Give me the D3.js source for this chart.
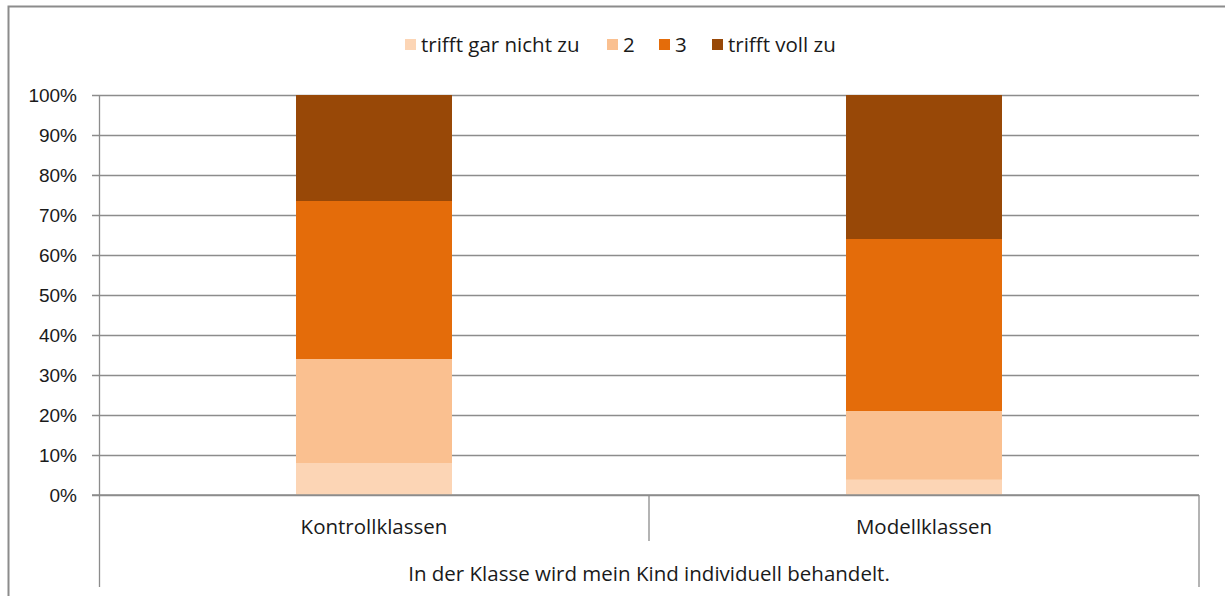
<!DOCTYPE html>
<html>
<head>
<meta charset="utf-8">
<script src="https://cdn.jsdelivr.net/npm/d3@7"></script>
<style>
  body { margin: 0; background: #fff; }
  svg { display: block; font-family: "Open Sans", sans-serif; }
  .tick text { font-size: 19px; fill: #1a1a1a; }
</style>
</head>
<body>
<svg id="chart" width="1225" height="596"></svg>
<script>
var categories = ["Kontrollklassen", "Modellklassen"];
var seriesNames = ["trifft gar nicht zu", "2", "3", "trifft voll zu"];
var colors = ["#FCD5B5", "#FAC090", "#E46C0A", "#984807"];
var kontroll = [8, 26, 39.5, 26.5];
var modell = [3.8, 17.2, 43, 36];
var yTicks = [0, 10, 20, 30, 40, 50, 60, 70, 80, 90, 100];
var axisTitle = "In der Klasse wird mein Kind individuell behandelt.";

var svg = d3.select("#chart");
var margin = {top: 95, left: 99, right: 26, bottom: 101};
var width = 1225 - margin.left - margin.right,
    height = 596 - margin.top - margin.bottom;
var fs = "20.5px";

// outer frame
svg.append("rect").attr("x", 8.5).attr("y", 6.5).attr("width", 1230).attr("height", 600)
  .attr("fill", "none").attr("stroke", "#8c8c8c").attr("stroke-width", 2);

var g = svg.append("g").attr("transform", "translate(" + margin.left + "," + margin.top + ")");

var x = d3.scaleBand().domain(categories).range([0, width]).paddingInner(0).paddingOuter(0);
var y = d3.scaleLinear().domain([0, 100]).range([height, 0]);

var rows = categories.map(function(c, i) {
  var vals = i == 0 ? kontroll : modell;
  var r = {cat: c};
  seriesNames.forEach(function(s, j) { r[s] = vals[j]; });
  return r;
});
var stacked = d3.stack().keys(seriesNames)(rows);

// gridlines
g.append("g")
  .call(d3.axisLeft(y).tickValues(yTicks).tickSize(-width).tickSizeOuter(0)
    .tickFormat(function(d) { return d + "%"; }).tickPadding(22))
  .call(function(a) {
    a.select(".domain").remove();
    a.selectAll(".tick line").attr("x1", -7).attr("stroke", "#8c8c8c").attr("stroke-width", 1.3);
  });

// bars
var barW = 156;
stacked.forEach(function(layer, j) {
  g.selectAll(".bar" + j).data(layer).enter().append("rect")
    .attr("x", function(d) { return x(d.data.cat) + x.bandwidth() / 2 - barW / 2; })
    .attr("y", function(d) { return y(d[1]); })
    .attr("width", barW)
    .attr("height", function(d) { return y(d[0]) - y(d[1]); })
    .attr("fill", colors[j]);
});

// re-draw 0% baseline on top
g.append("line").attr("x1", -7).attr("x2", width).attr("y1", y(0)).attr("y2", y(0))
  .attr("stroke", "#8c8c8c").attr("stroke-width", 1.3);

// category axis frame lines
g.append("line").attr("x1", 0.5).attr("x2", 0.5).attr("y1", 0).attr("y2", height + 92)
  .attr("stroke", "#8c8c8c").attr("stroke-width", 1.3);
g.append("line").attr("x1", x(categories[1])).attr("x2", x(categories[1]))
  .attr("y1", height).attr("y2", height + 46).attr("stroke", "#8c8c8c").attr("stroke-width", 1.3);
g.append("line").attr("x1", width).attr("x2", width).attr("y1", height).attr("y2", height + 92)
  .attr("stroke", "#8c8c8c").attr("stroke-width", 1.3);

g.selectAll(".cat").data(categories).enter().append("text")
  .attr("x", function(d) { return x(d) + x.bandwidth() / 2; })
  .attr("y", height + 39)
  .attr("text-anchor", "middle")
  .style("font-size", fs).attr("fill", "#1a1a1a")
  .text(function(d) { return d; });

g.append("text").attr("x", width / 2).attr("y", height + 86)
  .attr("text-anchor", "middle").style("font-size", fs).attr("fill", "#1a1a1a")
  .text(axisTitle);

// legend
var legendX = [405, 607, 659, 712];
var legend = svg.append("g");
seriesNames.forEach(function(s, j) {
  legend.append("rect").attr("x", legendX[j]).attr("y", 39).attr("width", 11).attr("height", 11)
    .attr("fill", colors[j]);
  legend.append("text").attr("x", legendX[j] + 16).attr("y", 52)
    .style("font-size", fs).attr("fill", "#1a1a1a").text(s);
});
</script>
</body>
</html>
